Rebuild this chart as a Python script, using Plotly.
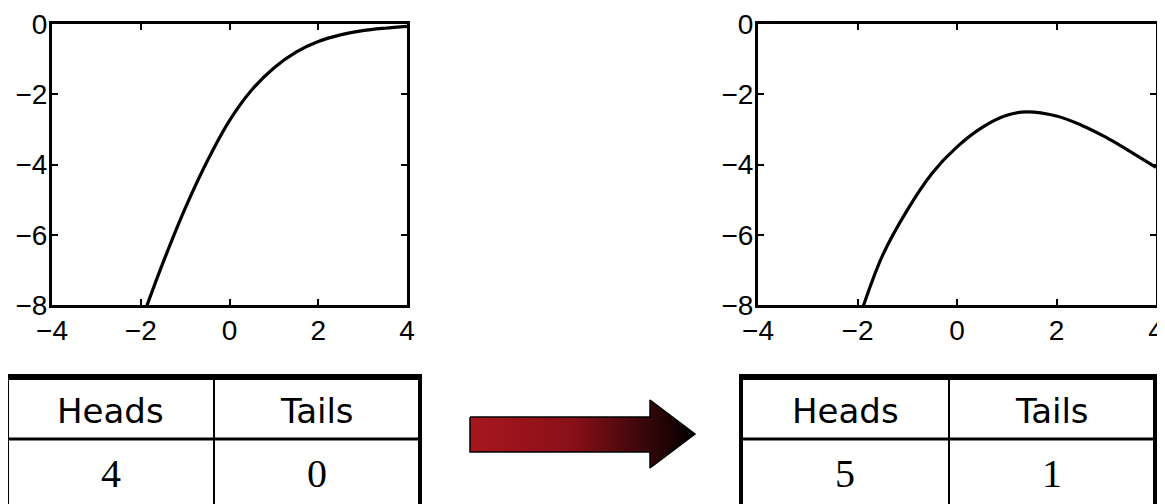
import plotly.graph_objects as go

# ---- data ----
left_x = [-1.9, -1.5, -1.0, -0.5, 0.0, 0.5, 1.0, 1.5, 2.0, 2.5, 3.0, 3.5, 4.0]
left_y = [-8.15, -6.8, -5.25, -3.9, -2.75, -1.88, -1.25, -0.8, -0.5, -0.31, -0.19, -0.12, -0.07]

right_x = [-1.9, -1.5, -1.0, -0.5, 0.0, 0.5, 1.0, 1.4, 2.0, 2.5, 3.0, 3.5, 4.0]
right_y = [-8.1, -6.6, -5.3, -4.25, -3.5, -2.95, -2.6, -2.5, -2.62, -2.88, -3.23, -3.65, -4.08]

x_ticks = [-4, -2, 0, 2, 4]
y_ticks = [-8, -6, -4, -2, 0]

table_header = ["Heads", "Tails"]
left_counts = ["4", "0"]
right_counts = ["5", "1"]

# page has an 8px body margin on every side; figure sized to fit the 1165x504 window
OFF = 8
W, H = 1165 - 2 * OFF, 504 - 2 * OFF


def fx(x):  # reference pixel x -> paper fraction
    return (x - OFF) / W


def fy(y):  # reference pixel y -> paper fraction
    return 1 - (y - OFF) / H


fig = go.Figure()
fig.add_trace(go.Scatter(x=left_x, y=left_y, mode="lines", line=dict(color="black", width=3.2, shape="spline"),
                         xaxis="x", yaxis="y", showlegend=False, hoverinfo="skip"))
fig.add_trace(go.Scatter(x=right_x, y=right_y, mode="lines", line=dict(color="black", width=3.2, shape="spline"),
                         xaxis="x2", yaxis="y2", showlegend=False, hoverinfo="skip"))

# arrow (decoration) in a local pixel-coordinate overlay
ax_x0, ax_x1, ax_y0, ax_y1 = 460, 705, 390, 478
arrow_x = [470, 650, 650, 695, 650, 650, 470, 470]
arrow_y = [417, 417, 400, 434, 468, 452, 452, 417]
fig.add_trace(go.Scatter(x=arrow_x, y=arrow_y, mode="lines", fill="toself",
                         line=dict(color="black", width=1.5),
                         fillgradient=dict(type="horizontal",
                                           colorscale=[[0, "#a8161f"], [0.45, "#8a1018"], [1, "#000000"]]),
                         xaxis="x3", yaxis="y3", showlegend=False, hoverinfo="skip"))

tickfont = dict(family="Liberation Sans Narrow, Arial Narrow, Liberation Sans", size=28, color="black")


def xax(dom):
    return dict(domain=dom, range=[-4, 4], tickvals=x_ticks, ticks="inside", ticklen=6, tickwidth=2,
                tickcolor="black", showline=True, linewidth=3, linecolor="black", mirror="ticks",
                showgrid=False, zeroline=False, tickfont=tickfont, fixedrange=True, automargin=False,
                ticklabelstandoff=-2)


def yax(dom):
    return dict(domain=dom, range=[-8, 0], tickvals=y_ticks, ticks="inside", ticklen=6, tickwidth=2,
                tickcolor="black", showline=True, linewidth=3, linecolor="black", mirror="ticks",
                showgrid=False, zeroline=False, tickfont=tickfont, fixedrange=True, automargin=False,
                ticklabelstandoff=-4)


ydom = [fy(305), fy(24)]
fig.update_layout(
    width=W + OFF, height=H + OFF, margin=dict(l=0, r=OFF, t=0, b=OFF, autoexpand=False),
    paper_bgcolor="white", plot_bgcolor="white",
    xaxis=dict(**xax([fx(52), fx(407)]), anchor="y"),
    yaxis=dict(**yax(ydom), anchor="x"),
    xaxis2=dict(**xax([fx(758), fx(1156)]), anchor="y2"),
    yaxis2=dict(**yax(ydom), anchor="x2"),
    xaxis3=dict(domain=[fx(ax_x0), fx(ax_x1)], range=[ax_x0, ax_x1], visible=False, anchor="y3", automargin=False),
    yaxis3=dict(domain=[fy(ax_y1), fy(ax_y0)], range=[ax_y1, ax_y0], visible=False, anchor="x3",
                automargin=False),
)

# tables
shapes = []
annotations = []
for (x0, xm, x1, counts) in [(7, 214, 420, left_counts), (741, 949, 1155, right_counts)]:
    top, mid, bot = 377, 439, 530
    shapes.append(dict(type="line", xref="paper", yref="paper", x0=fx(x0 - 2), x1=fx(x1 + 2), y0=fy(top), y1=fy(top),
                       line=dict(color="black", width=6)))
    for xx in (x0, x1):
        shapes.append(dict(type="line", xref="paper", yref="paper", x0=fx(xx), x1=fx(xx), y0=fy(top - 3), y1=fy(bot),
                           line=dict(color="black", width=4)))
    shapes.append(dict(type="line", xref="paper", yref="paper", x0=fx(x0), x1=fx(x1), y0=fy(mid), y1=fy(mid),
                       line=dict(color="black", width=3)))
    shapes.append(dict(type="line", xref="paper", yref="paper", x0=fx(xm), x1=fx(xm), y0=fy(top), y1=fy(bot),
                       line=dict(color="black", width=2)))
    centers = [(x0 + xm) / 2, (xm + x1) / 2]
    for c, h, v in zip(centers, table_header, counts):
        annotations.append(dict(xref="paper", yref="paper", x=fx(c), y=fy(411), text=h, showarrow=False,
                                xanchor="center", yanchor="middle",
                                font=dict(family="DejaVu Sans", size=34, color="black")))
        annotations.append(dict(xref="paper", yref="paper", x=fx(c), y=fy(473), text=v, showarrow=False,
                                xanchor="center", yanchor="middle",
                                font=dict(family="Liberation Serif, Times New Roman", size=40, color="black")))

fig.update_layout(shapes=shapes, annotations=annotations)
fig.write_html("out.html")
